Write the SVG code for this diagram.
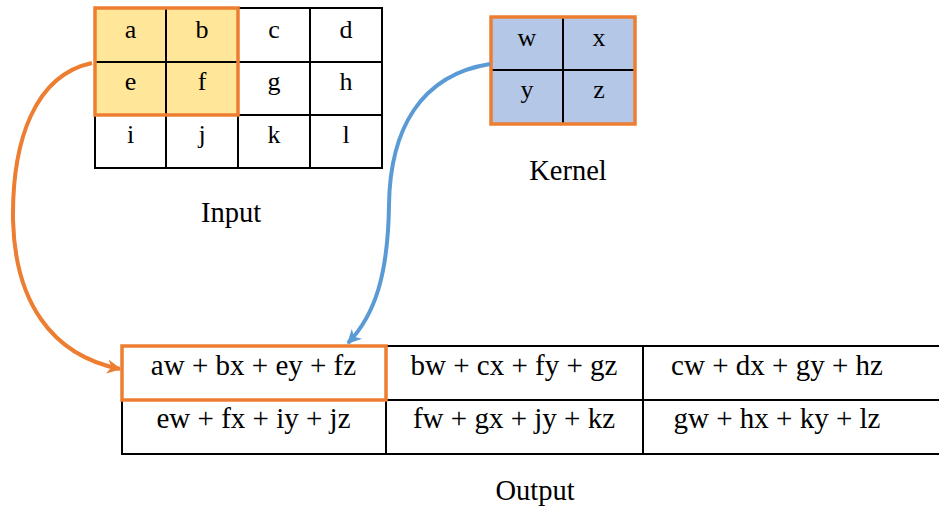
<svg xmlns="http://www.w3.org/2000/svg" width="939" height="510" viewBox="0 0 939 510">
<defs>
<style>
.g{fill:none;stroke:#000;stroke-width:2}
.hl{fill:none;stroke:#ED7D31;stroke-width:3.5}
</style>
<marker id="ao" viewBox="0 0 10 10" refX="9" refY="5" markerWidth="4" markerHeight="3.6" markerUnits="strokeWidth" orient="auto"><path d="M0,0 L10,5 L0,10 L3,5 Z" fill="#ED7D31"/></marker>
<marker id="ab" viewBox="0 0 10 10" refX="9" refY="5" markerWidth="4" markerHeight="3.6" markerUnits="strokeWidth" orient="auto"><path d="M0,0 L10,5 L0,10 L3,5 Z" fill="#5B9BD5"/></marker>
</defs>
<rect width="939" height="510" fill="#fff"/>
<g id="input">
<rect x="95" y="8" width="143" height="107" fill="#FFE699"/>
<rect class="g" x="95" y="8" width="287" height="160"/>
<line class="g" x1="166" y1="8" x2="166" y2="168"/>
<line class="g" x1="238" y1="8" x2="238" y2="168"/>
<line class="g" x1="310" y1="8" x2="310" y2="168"/>
<line class="g" x1="95" y1="62" x2="382" y2="62"/>
<line class="g" x1="95" y1="115" x2="382" y2="115"/>
<rect class="hl" x="95" y="8" width="143" height="107"/>
<g font-family="Liberation Serif" font-size="26" text-anchor="middle" fill="#000">
<text x="130.5" y="38">a</text><text x="202" y="38">b</text><text x="274" y="38">c</text><text x="346" y="38">d</text>
<text x="130.5" y="90">e</text><text x="202" y="90">f</text><text x="274" y="90">g</text><text x="346" y="90">h</text>
<text x="130.5" y="143">i</text><text x="202" y="143">j</text><text x="274" y="143">k</text><text x="346" y="143">l</text>
</g>
<text x="231" y="222" font-family="Liberation Serif" font-size="28.5" text-anchor="middle" fill="#000">Input</text>
</g>
<g id="kernel">
<rect x="491" y="17" width="144" height="107" fill="#B4C7E7"/>
<line class="g" x1="563" y1="17" x2="563" y2="124"/>
<line class="g" x1="491" y1="70" x2="635" y2="70"/>
<rect class="hl" x="491" y="17" width="144" height="107"/>
<g font-family="Liberation Serif" font-size="26" text-anchor="middle" fill="#000">
<text x="527" y="46">w</text><text x="599" y="46">x</text>
<text x="527" y="98">y</text><text x="599" y="98">z</text>
</g>
<text x="568" y="180" font-family="Liberation Serif" font-size="28.5" text-anchor="middle" fill="#000">Kernel</text>
</g>
<g id="output">
<rect class="g" x="122" y="346" width="830" height="108"/>
<line class="g" x1="122" y1="400" x2="952" y2="400"/>
<line class="g" x1="386" y1="346" x2="386" y2="454"/>
<line class="g" x1="643" y1="346" x2="643" y2="454"/>
<rect class="hl" x="122" y="346" width="264" height="54"/>
<g font-family="Liberation Serif" font-size="29" text-anchor="middle" fill="#000">
<text x="253.5" y="375">aw + bx + ey + fz</text>
<text x="514" y="375">bw + cx + fy + gz</text>
<text x="777" y="375">cw + dx + gy + hz</text>
<text x="253.5" y="428">ew + fx + iy + jz</text>
<text x="514" y="428">fw + gx + jy + kz</text>
<text x="777" y="428">gw + hx + ky + lz</text>
</g>
<text x="535" y="500" font-family="Liberation Serif" font-size="28.5" text-anchor="middle" fill="#000">Output</text>
</g>
<g id="connectors">
<path d="M92,63 C35,75 12,140 13,220 C15,300 50,355 120,369" fill="none" stroke="#ED7D31" stroke-width="4" marker-end="url(#ao)"/>
<path d="M490,64 C420,75 390,130 389,205 C388,275 375,315 348,343" fill="none" stroke="#5B9BD5" stroke-width="4" marker-end="url(#ab)"/>
</g>
</svg>
